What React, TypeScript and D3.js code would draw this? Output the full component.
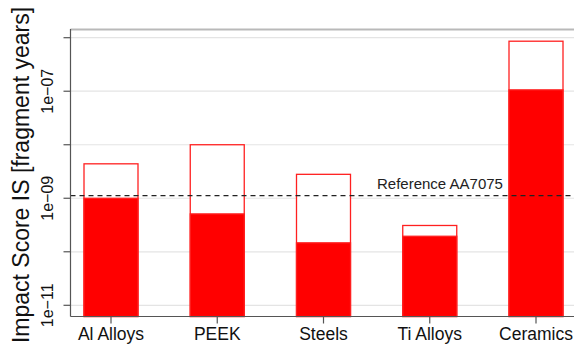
import React from "react";
import * as d3 from "d3";

// Impact score per material class: upper estimate (outlined) and lower estimate (filled)
const materials = ["Al Alloys", "PEEK", "Steels", "Ti Alloys", "Ceramics"];
const upperScore = [4.4e-9, 1.0e-8, 2.8e-9, 3.1e-10, 8.6e-7];
const lowerScore = [1.0e-9, 5.1e-10, 1.47e-10, 1.95e-10, 1.06e-7];
const referenceScore = 1.12e-9;
const referenceLabel = "Reference AA7075";
const gridValues = [1e-11, 1e-10, 1e-9, 1e-8, 1e-7, 1e-6];
const labelledTicks = [1e-11, 1e-9, 1e-7];
const tickText = ["1e\u221211", "1e\u221209", "1e\u221207"];
const yTitle = "Impact Score IS [fragment years]";

const W = 574;
const H = 347;
const axisX = 70.5;
const axisY = 316.5;
const topY = 29.5;
const font = "'Liberation Sans', Arial, Helvetica, sans-serif";

export default function App() {
  const y = d3.scaleLog().domain([1e-11, 1e-6]).range([305.3, 37.7]);
  const x = d3.scalePoint<string>().domain(materials).range([111, 536]);
  const barW = 54;

  return (
    <div style={{ position: "fixed", left: 0, top: 0 }}>
      <svg width={W} height={H} style={{ display: "block", background: "#fff" }} fontFamily={font}>
        {/* decade gridlines */}
        {gridValues.map((v) => (
          <line key={"g" + v} x1={axisX} x2={W} y1={y(v)} y2={y(v)} stroke="#e4e4e4" strokeWidth={1.2} />
        ))}
        {/* upper frame line */}
        <line x1={axisX} x2={W} y1={topY} y2={topY} stroke="#b9b9b9" strokeWidth={1.8} />

        {/* bars */}
        {materials.map((m, i) => {
          const cx = x(m) as number;
          return (
            <g key={m}>
              <rect
                x={cx - barW / 2}
                y={y(upperScore[i])}
                width={barW}
                height={axisY - y(upperScore[i])}
                fill="#ffffff"
                stroke="#ff2020"
                strokeWidth={1.3}
              />
              <rect
                x={cx - barW / 2}
                y={y(lowerScore[i])}
                width={barW}
                height={axisY - y(lowerScore[i])}
                fill="#ff0000"
                stroke="#ff2020"
                strokeWidth={1.3}
              />
            </g>
          );
        })}

        {/* reference line */}
        <line
          x1={axisX}
          x2={W}
          y1={y(referenceScore)}
          y2={y(referenceScore)}
          stroke="#222"
          strokeWidth={1.4}
          strokeDasharray="5,4"
        />
        <text x={377} y={y(referenceScore) - 7} fontSize={15} fill="#222">
          {referenceLabel}
        </text>

        {/* axes */}
        <line x1={axisX} x2={axisX} y1={topY - 0.5} y2={axisY} stroke="#555" strokeWidth={1.2} />
        <line x1={axisX} x2={W} y1={axisY} y2={axisY} stroke="#555" strokeWidth={1.2} />
        {gridValues.map((v) => (
          <line key={"t" + v} x1={axisX - 7} x2={axisX} y1={y(v)} y2={y(v)} stroke="#555" strokeWidth={1.2} />
        ))}
        {labelledTicks.map((v, i) => (
          <text
            key={"l" + v}
            transform={`translate(53,${y(v)}) rotate(-90)`}
            textAnchor="middle"
            fontSize={16}
            fill="#111"
          >
            {tickText[i]}
          </text>
        ))}
        {materials.map((m) => (
          <g key={"x" + m}>
            <line x1={x(m) as number} x2={x(m) as number} y1={axisY} y2={axisY + 7} stroke="#555" strokeWidth={1.2} />
            <text x={x(m) as number} y={340} textAnchor="middle" fontSize={17.5} fill="#111">
              {m}
            </text>
          </g>
        ))}

        {/* y-axis title */}
        <text transform={`translate(29,175) rotate(-90)`} textAnchor="middle" fontSize={23} fill="#111">
          {yTitle}
        </text>
      </svg>
    </div>
  );
}
